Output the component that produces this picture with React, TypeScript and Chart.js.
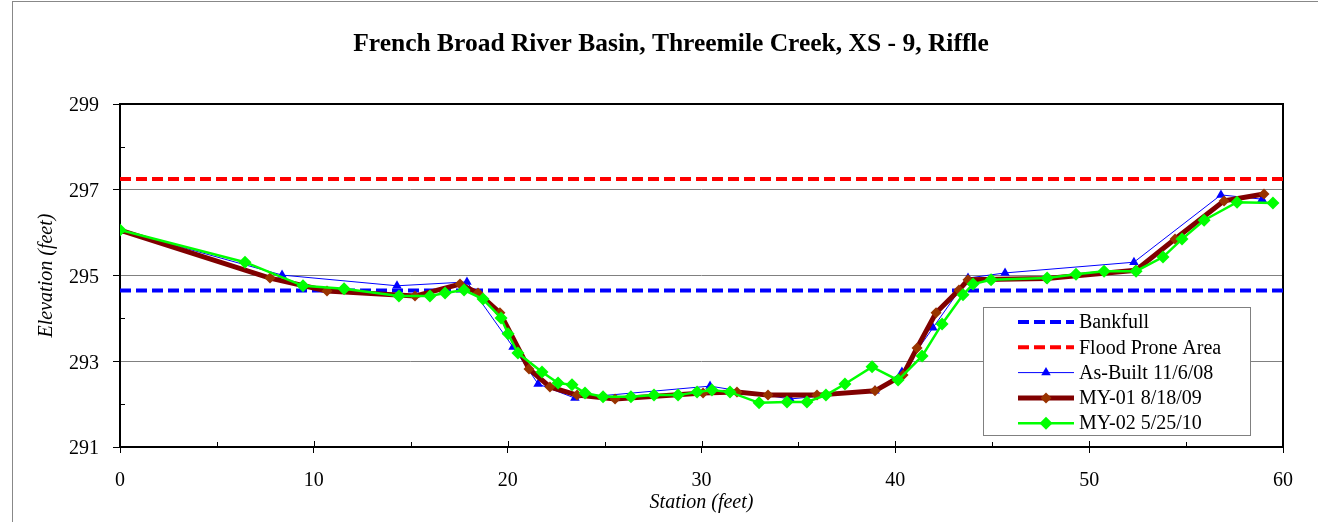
import React, { useEffect, useRef } from 'react';
import { Chart, registerables } from 'chart.js';

Chart.register(...registerables);

const FONT = '"Liberation Serif", "Times New Roman", serif';

const TITLE = 'French Broad River Basin, Threemile Creek, XS - 9, Riffle';
const X_TITLE = 'Station (feet)';
const Y_TITLE = 'Elevation (feet)';

const X_MIN = 0;
const X_MAX = 60;
const X_STEP = 10;
const X_MINOR_TICKS = [5, 15, 25, 35, 45, 55];
const Y_MIN = 291;
const Y_MAX = 299;
const Y_STEP = 2;
const Y_MINOR_TICKS = [292, 294, 296, 298];

const SERIES_LABELS = ['Bankfull', 'Flood Prone Area', 'As-Built 11/6/08', 'MY-01 8/18/09', 'MY-02 5/25/10'];

const BANKFULL_ELEV = 294.65;
const FLOOD_PRONE_ELEV = 297.25;

const asBuiltStation = [0, 8.36, 14.29, 17.9, 20.28, 21.57, 23.47, 30.44, 34.57, 38.95, 40.34, 41.94, 43.75, 45.66, 52.31, 56.8, 58.92];
const asBuiltElev = [296.06, 295.01, 294.76, 294.85, 293.33, 292.47, 292.14, 292.42, 292.12, 292.31, 292.75, 293.78, 294.94, 295.06, 295.31, 296.88, 296.78];

const my01Station = [0, 7.74, 10.68, 15.22, 17.54, 18.47, 19.6, 21.1, 22.18, 23.58, 25.54, 30.08, 31.83, 33.43, 35.96, 38.95, 40.4, 41.12, 42.1, 43.28, 43.75, 47.8, 52.4, 54.43, 56.96, 59.02];
const my01Elev = [296.06, 294.94, 294.64, 294.52, 294.8, 294.59, 294.13, 292.82, 292.4, 292.21, 292.12, 292.26, 292.28, 292.21, 292.21, 292.31, 292.68, 293.31, 294.13, 294.66, 294.9, 294.93, 295.12, 295.85, 296.74, 296.9];

const my02Station = [0, 6.45, 9.44, 11.56, 14.39, 15.99, 16.77, 17.75, 18.73, 19.66, 20.02, 20.53, 21.77, 22.6, 23.32, 23.99, 24.92, 26.36, 27.55, 28.79, 29.77, 30.54, 31.47, 32.97, 34.41, 35.44, 36.42, 37.4, 38.8, 40.14, 41.38, 42.41, 43.49, 44.01, 44.94, 47.83, 49.32, 50.77, 52.42, 53.81, 54.79, 55.93, 57.63, 59.48];
const my02Elev = [296.06, 295.31, 294.76, 294.69, 294.52, 294.52, 294.59, 294.66, 294.45, 294.01, 293.64, 293.19, 292.75, 292.49, 292.45, 292.26, 292.17, 292.17, 292.21, 292.21, 292.28, 292.33, 292.28, 292.03, 292.05, 292.05, 292.21, 292.47, 292.87, 292.56, 293.12, 293.87, 294.55, 294.8, 294.9, 294.94, 295.03, 295.1, 295.1, 295.43, 295.85, 296.29, 296.71, 296.69];

const zip = (xs: number[], ys: number[]) => xs.map((x, i) => ({ x, y: ys[i] }));

function drawMarker(ctx: CanvasRenderingContext2D, style: string, x: number, y: number, r: number, fill: string) {
  ctx.beginPath();
  if (style === 'triangle') {
    ctx.moveTo(x, y - r);
    ctx.lineTo(x + r * 0.866, y + r / 2);
    ctx.lineTo(x - r * 0.866, y + r / 2);
  } else {
    ctx.moveTo(x, y - r);
    ctx.lineTo(x + r, y);
    ctx.lineTo(x, y + r);
    ctx.lineTo(x - r, y);
  }
  ctx.closePath();
  ctx.fillStyle = fill;
  ctx.fill();
}

const framePlugin = {
  id: 'frame',
  beforeDatasetsDraw(chart: any) {
    const { ctx, chartArea } = chart;
    const { left, right, top, bottom } = chartArea;
    const xs = chart.scales.x;
    const ys = chart.scales.y;
    ctx.save();
    ctx.strokeStyle = '#000';
    ctx.lineWidth = 1;
    ctx.beginPath();
    Y_MINOR_TICKS.forEach((v) => {
      const py = Math.round(ys.getPixelForValue(v)) + 0.5;
      ctx.moveTo(left, py);
      ctx.lineTo(left + 5, py);
    });
    X_MINOR_TICKS.forEach((v) => {
      const px = Math.round(xs.getPixelForValue(v)) + 0.5;
      ctx.moveTo(px, bottom);
      ctx.lineTo(px, bottom - 5);
    });
    for (let v = X_MIN + X_STEP; v < X_MAX; v += X_STEP) {
      const px = Math.round(xs.getPixelForValue(v)) + 0.5;
      ctx.moveTo(px, bottom);
      ctx.lineTo(px, bottom - 6);
    }
    ctx.stroke();
    ctx.lineWidth = 2;
    ctx.strokeRect(left, top, right - left, bottom - top);
    ctx.restore();
  },
  afterDraw(chart: any) {
    const { ctx, chartArea } = chart;
    ctx.save();
    // title
    ctx.fillStyle = '#000';
    ctx.font = `bold 25.5px ${FONT}`;
    ctx.textAlign = 'center';
    ctx.textBaseline = 'middle';
    ctx.fillText(TITLE, 671, 44);

    // legend
    const lx = chartArea.right - 300;
    const ly = chartArea.top + 203;
    const lw = 267;
    const lh = 128;
    ctx.fillStyle = '#fff';
    ctx.fillRect(lx, ly, lw, lh);
    ctx.strokeStyle = '#808080';
    ctx.lineWidth = 1;
    ctx.strokeRect(lx + 0.5, ly + 0.5, lw, lh);
    const datasets = chart.data.datasets;
    datasets.forEach((ds: any, i: number) => {
      const cy = ly + 15 + i * 25.3;
      const x1 = lx + 35;
      const x2 = lx + 91;
      ctx.save();
      ctx.strokeStyle = ds.borderColor;
      ctx.lineWidth = ds.borderWidth;
      ctx.setLineDash(ds.borderDash || []);
      ctx.beginPath();
      ctx.moveTo(x1, cy);
      ctx.lineTo(x2, cy);
      ctx.stroke();
      ctx.restore();
      if (ds.pointRadius > 0) {
        drawMarker(ctx, ds.pointStyle, (x1 + x2) / 2, cy, ds.pointRadius, ds.pointBackgroundColor);
      }
      ctx.fillStyle = '#000';
      ctx.font = `20px ${FONT}`;
      ctx.textAlign = 'left';
      ctx.textBaseline = 'middle';
      ctx.fillText(ds.label, lx + 96, cy + 1);
    });
    ctx.restore();
  },
};

export default function App() {
  const canvasRef = useRef<HTMLCanvasElement | null>(null);

  useEffect(() => {
    const canvas = canvasRef.current;
    if (!canvas) return;
    const chart = new Chart(canvas, {
      type: 'line',
      data: {
        datasets: [
          {
            label: SERIES_LABELS[0],
            data: [{ x: X_MIN, y: BANKFULL_ELEV }, { x: X_MAX, y: BANKFULL_ELEV }],
            borderColor: '#0000FF',
            borderWidth: 4,
            borderDash: [11, 5],
            pointRadius: 0,
            order: 5,
          },
          {
            label: SERIES_LABELS[1],
            data: [{ x: X_MIN, y: FLOOD_PRONE_ELEV }, { x: X_MAX, y: FLOOD_PRONE_ELEV }],
            borderColor: '#FF0000',
            borderWidth: 4,
            borderDash: [11, 5],
            pointRadius: 0,
            order: 4,
          },
          {
            label: SERIES_LABELS[2],
            data: zip(asBuiltStation, asBuiltElev),
            borderColor: '#0000FF',
            borderWidth: 1,
            pointStyle: 'triangle',
            pointRadius: 5.5,
            pointBackgroundColor: '#0000FF',
            pointBorderColor: '#0000FF',
            pointBorderWidth: 0,
            order: 3,
          },
          {
            label: SERIES_LABELS[3],
            data: zip(my01Station, my01Elev),
            borderColor: '#800000',
            borderWidth: 5,
            pointStyle: 'rectRot',
            pointRadius: 5.5,
            pointBackgroundColor: '#993300',
            pointBorderColor: '#993300',
            pointBorderWidth: 0,
            order: 2,
          },
          {
            label: SERIES_LABELS[4],
            data: zip(my02Station, my02Elev),
            borderColor: '#00FF00',
            borderWidth: 2.5,
            pointStyle: 'rectRot',
            pointRadius: 6.5,
            pointBackgroundColor: '#00FF00',
            pointBorderColor: '#00FF00',
            pointBorderWidth: 0,
            order: 1,
          },
        ] as any,
      },
      options: {
        responsive: false,
        animation: false,
        devicePixelRatio: 1,
        layout: { padding: { top: 104, left: 0, right: 35, bottom: 0 } },
        plugins: {
          legend: { display: false },
          title: { display: false },
          tooltip: { enabled: false },
        },
        elements: { line: { tension: 0 } },
        scales: {
          x: {
            type: 'linear',
            min: X_MIN,
            max: X_MAX,
            ticks: {
              stepSize: X_STEP,
              color: '#000',
              font: { family: FONT, size: 20 },
              padding: 16,
              maxRotation: 0,
            },
            grid: {
              drawOnChartArea: false,
              drawTicks: true,
              tickLength: 6,
              tickColor: '#000',
              lineWidth: 1,
            },
            border: { display: false },
            title: {
              display: true,
              text: X_TITLE,
              color: '#000',
              font: { family: FONT, size: 20, style: 'italic' },
              padding: { top: 0, bottom: 7 },
            },
            afterFit: (s: any) => {
              s.height = 75;
            },
          },
          y: {
            type: 'linear',
            min: Y_MIN,
            max: Y_MAX,
            ticks: {
              stepSize: Y_STEP,
              color: '#000',
              font: { family: FONT, size: 20 },
              padding: 14,
              labelOffset: 2,
            },
            grid: {
              color: (c: any) =>
                c.tick && (c.tick.value === Y_MIN || c.tick.value === Y_MAX) ? 'rgba(0,0,0,0)' : '#808080',
              tickColor: '#000',
              tickLength: 7,
              lineWidth: 1,
            },
            border: { display: false },
            title: {
              display: true,
              text: Y_TITLE,
              color: '#000',
              font: { family: FONT, size: 20, style: 'italic' },
              padding: { top: 35, bottom: 0 },
            },
            afterFit: (s: any) => {
              s.width = 120;
            },
          },
        },
      } as any,
      plugins: [framePlugin],
    });
    return () => chart.destroy();
  }, []);

  return (
    <div style={{ position: 'fixed', left: 0, top: 0, width: 1318, height: 522, background: '#fff' }}>
      <div
        style={{
          position: 'absolute',
          left: 12,
          top: 1,
          width: 1320,
          height: 540,
          borderLeft: '1px solid #888',
          borderTop: '1px solid #888',
        }}
      />
      <canvas ref={canvasRef} width={1318} height={522} style={{ position: 'absolute', left: 0, top: 0, display: 'block' }} />
    </div>
  );
}
